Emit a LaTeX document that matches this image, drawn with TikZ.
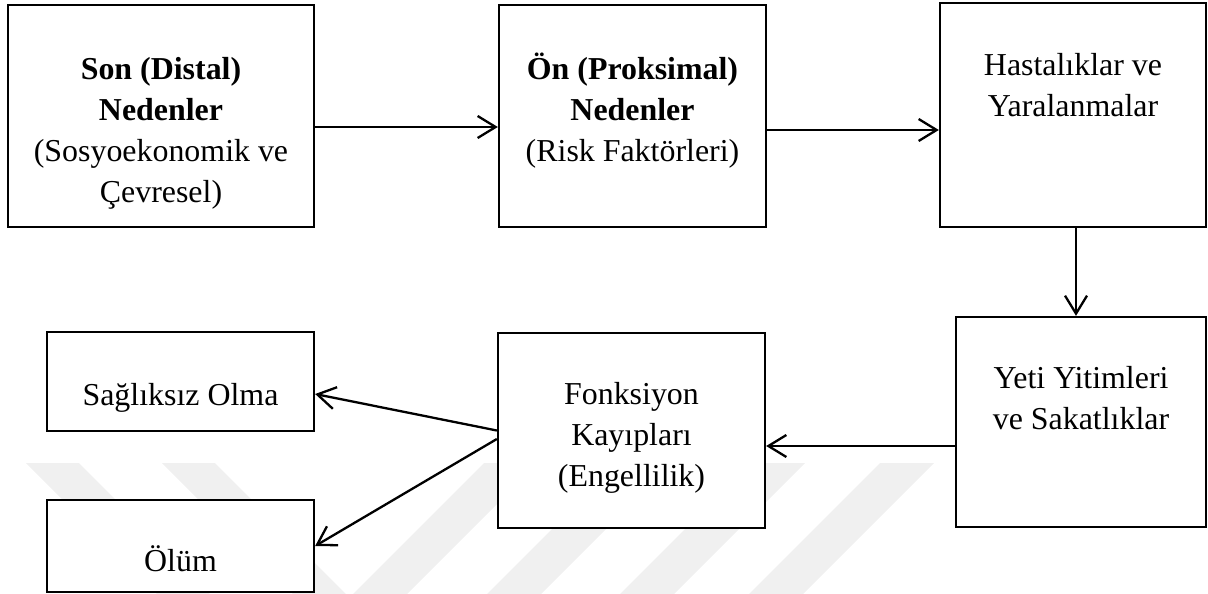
\documentclass[tikz,border=0pt]{standalone}
\usepackage{fontspec}
\setmainfont{Liberation Serif}
\usetikzlibrary{arrows.meta}
\definecolor{wmgray}{RGB}{240,240,240}
\newcommand{\boxfont}{\fontsize{31.9pt}{41.2pt}\selectfont}
\begin{document}
\begin{tikzpicture}[x=1pt, y=-1pt,
  box/.style={draw=black, line width=2.3pt, fill=white, inner sep=0pt},
  lbl/.style={anchor=north, inner sep=0pt, align=center, font=\boxfont},
  arr/.style={line width=2.3pt, -{Straight Barb[length=18pt, width=22pt]}},
  band/.style={fill=wmgray, draw=none}]
\useasboundingbox (0,0) rectangle (1208,594);

% faint background emblem: slanted bands
\begin{scope}
  \clip (0,0) rectangle (1208,594);
  \foreach \x in {26,162}
    \fill[band] (\x,463) -- (\x+53,463) -- (\x+53+150,613) -- (\x+150,613) -- cycle;
  \foreach \x in {484,618,751,880}
    \fill[band] (\x,463) -- (\x+54,463) -- (\x+54-150,613) -- (\x-150,613) -- cycle;
\end{scope}

% boxes
\node[box, minimum width=306pt, minimum height=222pt] (b1) at (161,116) {};
\node[box, minimum width=267pt, minimum height=222pt] (b2) at (632.5,116) {};
\node[box, minimum width=266pt, minimum height=224pt] (b3) at (1073,115) {};
\node[box, minimum width=250pt, minimum height=210pt] (b4) at (1081,422) {};
\node[box, minimum width=267pt, minimum height=195pt] (b5) at (631.5,430.5) {};
\node[box, minimum width=267pt, minimum height=99pt]  (b6) at (180.5,381.5) {};
\node[box, minimum width=267pt, minimum height=92pt]  (b7) at (180.5,546) {};

% box texts
\node[lbl] (t1) at (161,50.2)
  {\strut\textbf{Son (Distal)}\\\strut\textbf{Nedenler}\\\strut(Sosyoekonomik ve\\\strut Çevresel)};
\node[lbl] (t2) at (632.5,50.2)
  {\strut\textbf{Ön (Proksimal)}\\\strut\textbf{Nedenler}\\\strut(Risk Faktörleri)};
\node[lbl] (t3) at (1073,46.2)
  {\strut Hastalıklar ve\\\strut Yaralanmalar};
\node[lbl] (t4) at (1081,359.2)
  {\strut Yeti Yitimleri\\\strut ve Sakatlıklar};
\node[lbl] (t5) at (631.5,375.2)
  {\strut Fonksiyon\\\strut Kayıpları\\\strut(Engellilik)};
\node[lbl] (t6) at (180.5,376.2) {\strut Sağlıksız Olma};
\node[lbl] (t7) at (180.5,542.2) {\strut Ölüm};

% connectors
\draw[arr] ([yshift=-11pt]b1.east) coordinate (s1) -- (s1 -| b2.west);
\draw[arr] ([yshift=-14pt]b2.east) coordinate (s2) -- (s2 -| b3.west);
\draw[arr] ([xshift=3pt]b3.south) coordinate (s3) -- (s3 |- b4.north);
\draw[arr] ([yshift=-24pt]b4.west) coordinate (s4) -- (s4 -| b5.east);
\draw[arr] (b5.west) -- ([yshift=-12.5pt]b6.east);
\draw[arr] ([yshift=-8.5pt]b5.west) -- (b7.east);
\end{tikzpicture}
\end{document}
